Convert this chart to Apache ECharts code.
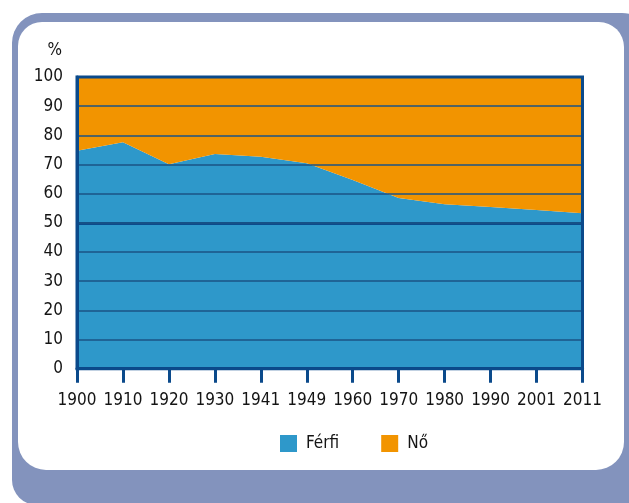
<!DOCTYPE html>
<html>
<head>
<meta charset="utf-8">
<script src="https://cdn.jsdelivr.net/npm/echarts@6/dist/echarts.min.js"></script>
<style>
html,body{margin:0;padding:0;background:#fff;}
#chart{width:629px;height:503px;}
</style>
</head>
<body>
<div id="chart"></div>
<script>
var years = ['1900','1910','1920','1930','1941','1949','1960','1970','1980','1990','2001','2011'];
var ferfi = [74.7, 77.6, 70.1, 73.6, 72.7, 70.4, 64.7, 58.5, 56.4, 55.4, 54.4, 53.3];
var no = [25.3, 22.4, 29.9, 26.4, 27.3, 29.6, 35.3, 41.5, 43.6, 44.6, 45.6, 46.7];
var yTicks = [0, 10, 20, 30, 40, 50, 60, 70, 80, 90, 100];

var FONT = "'Liberation Sans Narrow', 'DejaVu Sans Condensed', 'Arial Narrow', sans-serif";
var NAVY = '#0b4a8b';
var BLUE = '#2e98ca';
var ORANGE = '#f29400';
var FRAME = '#8393bd';
var TXT = '#141414';

var chart = echarts.init(document.getElementById('chart'), null, {renderer: 'canvas'});
chart.setOption({
  animation: false,
  backgroundColor: '#ffffff',
  textStyle: {fontFamily: FONT},
  graphic: [
    {type: 'rect', z: -10, silent: true,
     shape: {x: 12, y: 13, width: 640, height: 492, r: [30, 30, 0, 25]},
     style: {fill: FRAME}},
    {type: 'rect', z: -9, silent: true,
     shape: {x: 18, y: 22, width: 606, height: 448, r: [24, 25, 28, 28]},
     style: {fill: '#ffffff'}}
  ],
  grid: {
    left: 77, top: 77, right: 46.5, bottom: 134.3,
    show: true, borderColor: NAVY, borderWidth: 3, z: 20,
    backgroundColor: 'transparent'
  },
  legend: {
    left: 275, top: 430,
    itemWidth: 17, itemHeight: 17, itemGap: 42,
    icon: 'rect',
    textStyle: {fontFamily: FONT, fontSize: 17, color: TXT, padding: [0, 0, 0, 4]},
    data: ['Férfi', 'Nő']
  },
  xAxis: {
    type: 'category',
    data: years,
    boundaryGap: false,
    z: 15,
    axisLine: {show: true, lineStyle: {color: NAVY, width: 3}},
    axisTick: {show: true, length: 14, lineStyle: {color: NAVY, width: 3}},
    axisLabel: {fontFamily: FONT, fontSize: 17, color: TXT, margin: 23, interval: 0},
    splitLine: {show: false}
  },
  yAxis: {
    type: 'value',
    min: yTicks[0], max: yTicks[yTicks.length - 1], interval: 10,
    z: 15,
    name: '%',
    nameLocation: 'end',
    nameGap: 18,
    nameTextStyle: {fontFamily: FONT, fontSize: 17, color: TXT, align: 'right', padding: [0, 15, 0, 0]},
    axisLine: {show: true, lineStyle: {color: NAVY, width: 3}},
    axisTick: {show: false},
    axisLabel: {fontFamily: FONT, fontSize: 17, color: TXT, margin: 14},
    splitLine: {show: true, lineStyle: {color: '#1b5385', width: 1.5}}
  },
  series: [
    {
      name: 'Férfi', type: 'line', stack: 'total', data: ferfi,
      symbol: 'none', lineStyle: {width: 0}, itemStyle: {color: BLUE},
      areaStyle: {color: BLUE, opacity: 1}
    },
    {
      name: 'Nő', type: 'line', stack: 'total', data: no,
      symbol: 'none', lineStyle: {width: 0}, itemStyle: {color: ORANGE},
      areaStyle: {color: ORANGE, opacity: 1},
      markLine: {
        silent: true, symbol: ['none', 'none'], label: {show: false},
        lineStyle: {color: NAVY, width: 3, type: 'solid'},
        data: [{yAxis: 50}]
      }
    }
  ]
});
</script>
</body>
</html>
